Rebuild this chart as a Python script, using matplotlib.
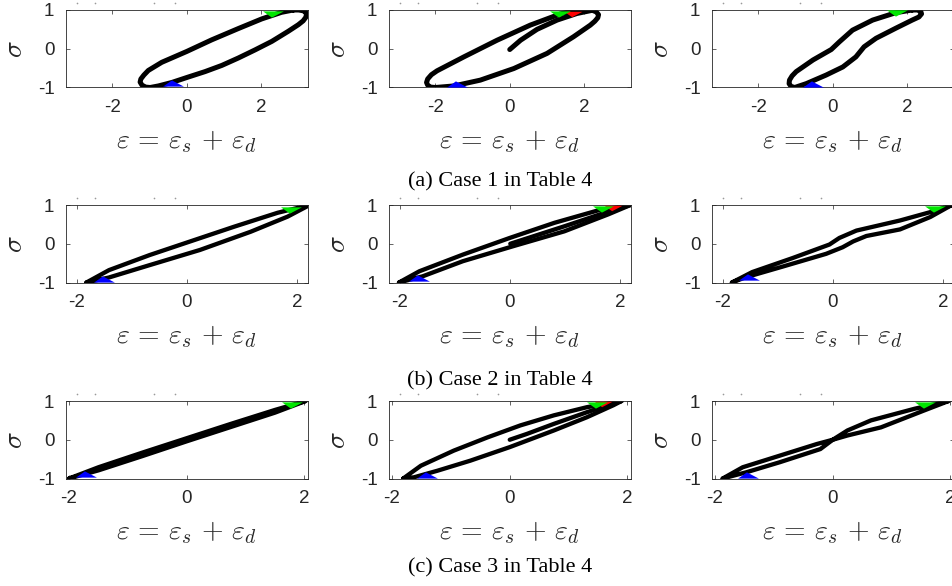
import matplotlib
matplotlib.use("Agg")
import matplotlib.pyplot as plt
from matplotlib.path import Path
from matplotlib.lines import Line2D

plt.rcParams['mathtext.fontset'] = 'cm'

# ---------------- data ----------------
# Row (a): Case 1
eps_a1 = [2.86, 3.0, 3.12, 3.19, 3.21, 3.19, 3.12, 2.99, 2.72, 2.28, 1.83, 1.38, 0.94, 0.49, 0.04, -0.4, -0.76, -0.98,
          -1.1, -1.2, -1.25, -1.23, -1.15, -1.03, -0.67, 0.0, 0.67, 1.38, 2.01, 2.54, 2.75, 2.86]
sig_a1 = [1.0, 1.0, 0.98, 0.94, 0.88, 0.81, 0.72, 0.62, 0.45, 0.19, -0.03, -0.24, -0.43, -0.59, -0.73, -0.87, -0.96, -1.0,
          -0.99, -0.94, -0.86, -0.78, -0.68, -0.56, -0.35, -0.07, 0.23, 0.52, 0.77, 0.94, 0.98, 1.0]

eps_a2 = [2.07, 2.22, 2.32, 2.38, 2.36, 2.28, 2.16, 1.71, 1.0, 0.11, -0.79, -1.5, -1.99, -2.12, -2.2, -2.23, -2.2, -2.1,
          -1.95, -1.23, -0.34, 0.55, 1.36, 1.8, 2.07]
sig_a2 = [1.0, 0.99, 0.95, 0.88, 0.8, 0.71, 0.61, 0.31, -0.12, -0.51, -0.81, -0.96, -1.0, -0.99, -0.94, -0.87, -0.78, -0.67,
          -0.57, -0.21, 0.22, 0.61, 0.9, 1.0, 1.0]
eps_a2_init = [0.0, 0.29, 0.73, 1.27, 1.8, 2.25]
sig_a2_init = [-0.02, 0.22, 0.5, 0.74, 0.91, 1.0]

eps_a3 = [2.13, 2.27, 2.36, 2.38, 2.31, 2.13, 1.69, 1.16, 0.84, 0.62, 0.27, -0.18, -0.71, -1.02, -1.12, -1.17, -1.16, -1.09,
          -0.98, -0.53, -0.04, 0.18, 0.53, 1.07, 1.69, 2.13]
sig_a3 = [1.0, 1.0, 0.96, 0.9, 0.82, 0.74, 0.53, 0.27, 0.05, -0.21, -0.47, -0.68, -0.9, -1.0, -0.97, -0.9, -0.81, -0.7,
          -0.59, -0.29, -0.02, 0.18, 0.48, 0.74, 0.93, 1.0]

# Row (b): Case 2
eps_b1 = [-1.82, -1.41, -0.67, 0.0, 0.86, 1.65, 2.23, 1.83, 1.16, 0.24, -0.67, -1.41, -1.82]
sig_b1 = [-1.0, -0.68, -0.29, 0.03, 0.44, 0.8, 1.0, 0.7, 0.31, -0.16, -0.55, -0.87, -1.0]

eps_b2 = [-2.01, -1.64, -0.85, 0.0, 0.81, 1.6, 2.19, 1.79, 0.99, 0.07, -0.85, -1.58, -2.01]
sig_b2 = [-1.0, -0.71, -0.28, 0.15, 0.54, 0.86, 1.0, 0.76, 0.32, -0.06, -0.45, -0.84, -1.0]
eps_b2_init = [0.01, 0.38, 0.99, 1.6, 2.03, 2.19]
sig_b2_init = [0.0, 0.17, 0.45, 0.74, 0.93, 1.0]

eps_b3 = [-1.83, -1.46, -0.73, -0.06, 0.12, 0.43, 1.22, 1.83, 2.16, 1.77, 1.22, 0.61, 0.37, 0.18, -0.12, -0.91, -1.59, -1.83]
sig_b3 = [-1.0, -0.73, -0.37, -0.02, 0.15, 0.34, 0.6, 0.84, 1.0, 0.69, 0.37, 0.2, 0.06, -0.09, -0.26, -0.59, -0.87, -1.0]

# Row (c): Case 3
eps_c1 = [-2.0, -1.5, -0.75, 0.0, 0.75, 1.5, 2.02, 1.5, 0.75, 0.0, -0.75, -1.5, -2.0]
sig_c1 = [-1.0, -0.71, -0.33, 0.04, 0.41, 0.77, 1.0, 0.7, 0.33, -0.04, -0.42, -0.79, -1.0]

eps_c2 = [-1.81, -1.51, -0.95, -0.38, 0.18, 0.75, 1.31, 1.9, 1.76, 1.31, 0.75, 0.0, -0.67, -1.23, -1.63, -1.81]
sig_c2 = [-1.0, -0.67, -0.28, 0.06, 0.37, 0.63, 0.84, 1.0, 0.89, 0.58, 0.24, -0.19, -0.54, -0.8, -0.97, -1.0]
eps_c2_init = [0.0, 0.29, 0.75, 1.31, 1.71, 1.9]
sig_c2_init = [0.0, 0.15, 0.41, 0.71, 0.91, 1.0]

eps_c3 = [-1.87, -1.53, -0.9, -0.27, 0.0, 0.25, 0.65, 1.39, 1.97, 1.56, 0.82, 0.25, 0.0, -0.21, -0.9, -1.47, -1.87]
sig_c3 = [-1.0, -0.71, -0.41, -0.11, 0.0, 0.24, 0.5, 0.8, 1.0, 0.76, 0.32, 0.11, 0.0, -0.24, -0.58, -0.84, -1.0]

# arrow-head markers (eps, sigma)
green_pts = {"a1": (2.32, 0.9), "a2": (1.36, 0.9), "a3": (1.73, 0.91),
             "b1": (1.9, 0.87), "b2": (1.7, 0.89), "b3": (1.86, 0.89),
             "c1": (1.78, 0.89), "c2": (1.48, 0.89), "c3": (1.56, 0.89)}
red_pts = {"a2": (1.7, 0.9), "b2": (1.88, 0.91), "c2": (1.59, 0.91)}
blue_pts = {"a1": (-0.36, -0.89), "a2": (-1.41, -0.91), "a3": (-0.53, -0.9),
            "b1": (-1.5, -0.9), "b2": (-1.64, -0.89), "b3": (-1.52, -0.87),
            "c1": (-1.72, -0.89), "c2": (-1.4, -0.9), "c3": (-1.44, -0.91)}

x_ticks = [-2, 0, 2]
y_ticks = [-1, 0, 1]
row_xlim = [3.25, 2.2, 2.06]
captions = ["(a) Case 1 in Table 4", "(b) Case 2 in Table 4", "(c) Case 3 in Table 4"]

panels = {
    "a1": [(eps_a1, sig_a1)], "a2": [(eps_a2, sig_a2), (eps_a2_init, sig_a2_init)], "a3": [(eps_a3, sig_a3)],
    "b1": [(eps_b1, sig_b1)], "b2": [(eps_b2, sig_b2), (eps_b2_init, sig_b2_init)], "b3": [(eps_b3, sig_b3)],
    "c1": [(eps_c1, sig_c1)], "c2": [(eps_c2, sig_c2), (eps_c2_init, sig_c2_init)], "c3": [(eps_c3, sig_c3)],
}

# ---------------- figure ----------------
W, H = 952, 586
fig = plt.figure(figsize=(W / 100, H / 100), dpi=100)

col_left = [65.5, 388.5, 711.5]
ax_w = 242.5
row_top = [10, 205, 401]
ax_h = 77.5
row_lw = [3.6, 3.1, 3.1]
caption_x = 500
caption_y = [182, 381, 568]
stray_dx = [11, 29.5, 88.5, 109.5]   # faint residual dots above each panel

green_marker = Path([(-1.0, 0.3), (1.0, 0.3), (-0.15, -0.3), (-1.0, 0.3)],
                    [Path.MOVETO, Path.LINETO, Path.LINETO, Path.CLOSEPOLY])
blue_marker = Path([(-1.0, -0.3), (1.0, -0.3), (-0.15, 0.3), (-1.0, -0.3)],
                   [Path.MOVETO, Path.LINETO, Path.LINETO, Path.CLOSEPOLY])

axc = '#262626'
for r, row in enumerate("abc"):
    for c in range(3):
        key = f"{row}{c+1}"
        ax = fig.add_axes([col_left[c] / W, 1 - (row_top[r] + ax_h) / H, ax_w / W, ax_h / H])
        for ex, sy in panels[key]:
            ax.plot(ex, sy, color='black', lw=row_lw[r], solid_capstyle='round',
                    solid_joinstyle='round', zorder=2)
        gx, gy = green_pts[key]
        ax.plot([gx], [gy], marker=green_marker, ms=15, color='#00e600', mec='none', zorder=4)
        if key in red_pts:
            rx, ry = red_pts[key]
            ax.plot([rx], [ry], marker=green_marker, ms=13, color='#ff0000', mec='none', zorder=3)
        bx, by = blue_pts[key]
        ax.plot([bx], [by], marker=blue_marker, ms=15, color='#0000ff', mec='none', zorder=4)

        ax.set_xlim(-row_xlim[r], row_xlim[r])
        ax.set_ylim(-1, 1)
        ax.set_xticks(x_ticks)
        ax.set_yticks(y_ticks)
        ax.set_xticklabels([str(t) for t in x_ticks], family='Liberation Sans', fontsize=13.5, color=axc)
        ax.set_yticklabels([str(t) for t in y_ticks], family='Liberation Sans', fontsize=13.5, color=axc)
        ax.tick_params(direction='in', length=3, width=0.5, color=axc, top=True, right=True, pad=8)
        for s in ax.spines.values():
            s.set_linewidth(0.6)
            s.set_color(axc)
        ax.set_xlabel(r'$\varepsilon \,=\, \varepsilon_s \,+\, \varepsilon_d$', fontsize=20, color=axc, labelpad=8)
        ax.set_ylabel(r'$\sigma$', fontsize=20, color=axc, labelpad=7)

        # faint dots above the panel (residue in the source image)
        for dx in stray_dx:
            fig.add_artist(Line2D([(col_left[c] + dx) / W], [1 - (row_top[r] - 7) / H],
                                  marker='o', ms=1.2, color='#999999', mec='none', ls='none'))
    fig.text(caption_x / W, 1 - caption_y[r] / H, captions[r], ha='center', va='center',
             family='Liberation Serif', fontsize=16, color='black')

fig.savefig('out.png', dpi=100)
